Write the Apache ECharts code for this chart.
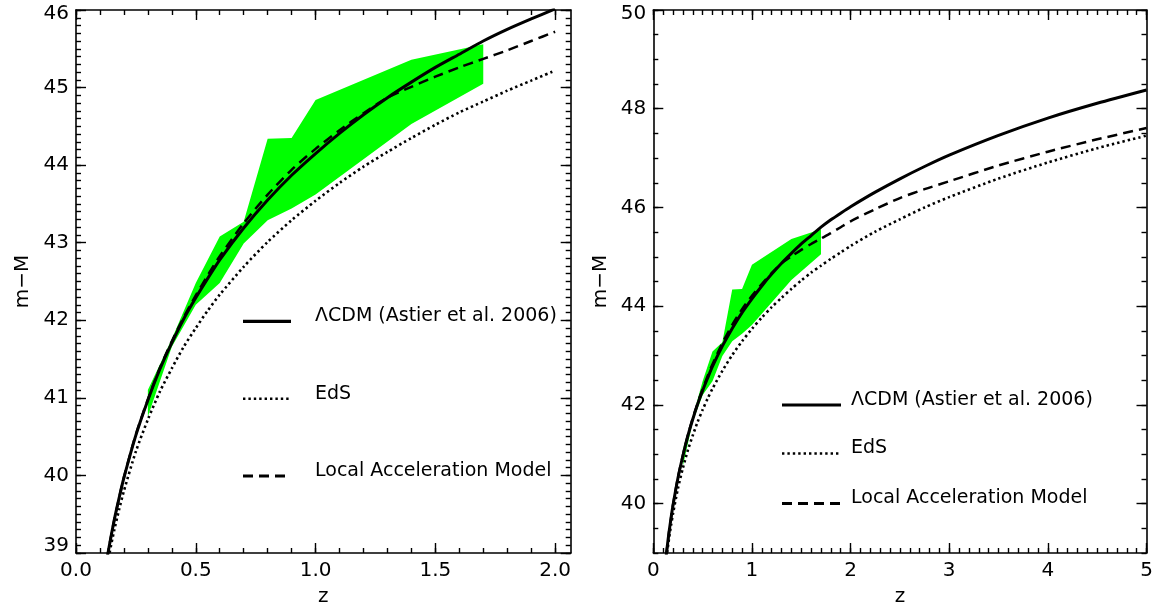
<!DOCTYPE html>
<html>
<head>
<meta charset="utf-8">
<script src="https://cdn.jsdelivr.net/npm/echarts@6/dist/echarts.min.js"></script>
<style>
html,body{margin:0;padding:0;background:#ffffff;}
#chart{width:1155px;height:612px;}
</style>
</head>
<body>
<div id="chart"></div>
<script>
// ---------------- data ----------------
const zValues = [0.10,0.12,0.14,0.16,0.18,0.20,0.25,0.30,0.35,0.40,0.45,0.50,0.55,0.60,
                 0.70,0.80,0.90,1.00,1.10,1.20,1.30,1.40,1.50,1.60,1.70,1.80,1.90,2.00,
                 2.25,2.50,2.75,3.00,3.50,4.00,4.50,5.00];
const muLCDM  = [38.32,38.75,39.11,39.43,39.71,39.97,40.52,40.97,41.37,41.71,42.02,42.29,42.54,42.78,
                 43.19,43.55,43.87,44.15,44.41,44.65,44.87,45.07,45.26,45.43,45.60,45.75,45.885,46.015,
                 46.31,46.58,46.83,47.06,47.46,47.81,48.11,48.38];
const muEdS   = [38.25,38.655,39.00,39.30,39.56,39.80,40.31,40.72,41.08,41.38,41.66,41.90,42.125,42.33,
                 42.69,43.01,43.29,43.54,43.77,43.98,44.17,44.35,44.52,44.68,44.82,44.96,45.09,45.22,
                 45.51,45.76,46.00,46.21,46.585,46.91,47.20,47.455];
const muLocal = [38.32,38.75,39.11,39.43,39.71,39.975,40.53,40.98,41.385,41.73,42.04,42.32,42.58,42.825,
                 43.25,43.62,43.94,44.21,44.45,44.67,44.87,45.01,45.14,45.26,45.37,45.48,45.60,45.72,
                 45.965,46.19,46.37,46.53,46.85,47.13,47.38,47.61];

const bandZ     = [0.30,0.40,0.50,0.60,0.70,0.80,0.90,1.00,1.40,1.70];
const bandUpper = [41.10,41.76,42.48,43.08,43.27,44.34,44.35,44.84,45.36,45.56];
const bandLower = [40.76,41.66,42.20,42.48,42.99,43.29,43.44,43.62,44.53,45.05];

const leftXTicks  = [0,0.5,1.0,1.5,2.0];
const leftYTicks  = [39,40,41,42,43,44,45,46];
const rightXTicks = [0,1,2,3,4,5];
const rightYTicks = [40,42,44,46,48,50];

const seriesNames = ['\u039BCDM (Astier et al. 2006)','EdS','Local Acceleration Model'];
const axisTitleX = 'z';
const axisTitleY = 'm\u2212M';

// ---------------- helpers ----------------
const FONT = '"DejaVu Sans", "Liberation Sans", sans-serif';
function steps(a,b,s){const r=[];const n=Math.round((b-a)/s);for(let i=0;i<=n;i++)r.push(Math.round((a+i*s)*1000)/1000);return r;}
const leftXMinor  = steps(0,2.0,0.1);
const leftYMinor  = steps(39,46,0.1);
const rightXMinor = steps(0,5,0.1);
const rightYMinor = steps(39,50,0.5);

const black = '#000000';
const labelStyle = {color:black, fontFamily:FONT, fontSize:20};

function majorAxis(kind, gridIndex, position, min, max, ticks, labelOpts, name, nameGap){
  const ax = {
    type:'value', gridIndex, position, min, max,
    axisLine:{show:true, onZero:false, lineStyle:{color:black, width:1.6}},
    splitLine:{show:false},
    axisTick:{show:true, inside:true, length:10, customValues:ticks, lineStyle:{color:black, width:1.4}},
    axisLabel: labelOpts ? Object.assign({show:true, customValues:ticks}, labelStyle, labelOpts) : {show:false},
    axisPointer:{show:false}
  };
  if (name){
    ax.name = name; ax.nameLocation = 'middle'; ax.nameGap = nameGap;
    ax.nameTextStyle = {color:black, fontFamily:FONT, fontSize:20};
  }
  return ax;
}
function minorAxis(gridIndex, position, min, max, ticks){
  return {
    type:'value', gridIndex, position, min, max,
    axisLine:{show:false, onZero:false},
    splitLine:{show:false},
    axisTick:{show:true, inside:true, length:5, customValues:ticks, lineStyle:{color:black, width:1.4}},
    axisLabel:{show:false},
    axisPointer:{show:false}
  };
}

const leftX = {min:0, max:2.065};
const leftY = {min:39, max:46};
const rightX = {min:0, max:5};
const rightY = {min:39, max:50};

const gL = {left:76, top:10, width:494.7, height:543, outerBoundsMode:'none'};
const gR = {left:653.3, top:10, width:493.2, height:543, outerBoundsMode:'none'};

const fmt1 = v => v.toFixed(1);
const fmtInt = v => String(Math.round(v));
const yFmt = (lo, hi) => v => {
  const s = String(Math.round(v));
  if (Math.round(v) === lo) return '{lo|' + s + '}';
  if (Math.round(v) === hi) return '{hi|' + s + '}';
  return s;
};
const yRich = {
  lo:{color:black, fontFamily:FONT, fontSize:20, padding:[0,0,14,0]},
  hi:{color:black, fontFamily:FONT, fontSize:20, padding:[7,0,0,0]}
};

const xAxes = [
  majorAxis('x',0,'bottom',leftX.min,leftX.max,leftXTicks,{formatter:fmt1, margin:8},axisTitleX,34),
  majorAxis('x',0,'top',leftX.min,leftX.max,leftXTicks,null),
  majorAxis('x',1,'bottom',rightX.min,rightX.max,rightXTicks,{formatter:fmtInt, margin:8},axisTitleX,34),
  majorAxis('x',1,'top',rightX.min,rightX.max,rightXTicks,null),
  minorAxis(2,'bottom',leftX.min,leftX.max,leftXMinor),
  minorAxis(2,'top',leftX.min,leftX.max,leftXMinor),
  minorAxis(3,'bottom',rightX.min,rightX.max,rightXMinor),
  minorAxis(3,'top',rightX.min,rightX.max,rightXMinor)
];
const yAxes = [
  majorAxis('y',0,'left',leftY.min,leftY.max,leftYTicks,{formatter:yFmt(39,46), rich:yRich, margin:7},axisTitleY,43),
  majorAxis('y',0,'right',leftY.min,leftY.max,leftYTicks,null),
  majorAxis('y',1,'left',rightY.min,rightY.max,rightYTicks,{formatter:yFmt(null,50), rich:yRich, margin:7},axisTitleY,43),
  majorAxis('y',1,'right',rightY.min,rightY.max,rightYTicks,null),
  minorAxis(2,'left',leftY.min,leftY.max,leftYMinor),
  minorAxis(2,'right',leftY.min,leftY.max,leftYMinor),
  minorAxis(3,'left',rightY.min,rightY.max,rightYMinor),
  minorAxis(3,'right',rightY.min,rightY.max,rightYMinor)
];

function curve(vals, zmax){
  const out = [];
  for (let i=0;i<zValues.length;i++){ if (zValues[i] <= zmax + 1e-9) out.push([zValues[i], vals[i]]); }
  return out;
}
const styles = [
  {color:black, width:3, type:'solid'},
  {color:black, width:2.6, type:[2.4,3], cap:'butt'},
  {color:black, width:2.5, type:[10,6], cap:'butt'}
];
const values = [muLCDM, muEdS, muLocal];

function lineSeries(k, xi, yi, zmax){
  return {
    type:'line', name:seriesNames[k], xAxisIndex:xi, yAxisIndex:yi,
    data:curve(values[k], zmax), symbol:'none', showSymbol:false,
    smooth:0.25, clip:true, lineStyle:styles[k], z:3, silent:true, animation:false
  };
}
function bandSeries(xi, yi){
  return {
    type:'custom', name:'band', xAxisIndex:xi, yAxisIndex:yi, z:2, silent:true, animation:false,
    data: bandZ.map((z,i)=>[z, bandLower[i], bandUpper[i]]),
    encode:{x:0, y:[1,2]},
    renderItem:(params, api)=>{
      if (params.dataIndex !== 0) return null;
      const pts = [];
      for (let i=0;i<bandZ.length;i++) pts.push(api.coord([bandZ[i], bandUpper[i]]));
      for (let i=bandZ.length-1;i>=0;i--) pts.push(api.coord([bandZ[i], bandLower[i]]));
      return {type:'polygon', shape:{points:pts}, style:{fill:'#00ff00', stroke:null}};
    }
  };
}

const series = [
  bandSeries(0,0),
  lineSeries(0,0,0,2.0), lineSeries(1,0,0,2.0), lineSeries(2,0,0,2.0),
  bandSeries(2,2),
  lineSeries(0,2,2,5.0), lineSeries(1,2,2,5.0), lineSeries(2,2,2,5.0)
];

// legend keys drawn as graphic elements (positions in pixels)
function legendRows(x1, x2, tx, rows, dashEnd){
  const els = [];
  rows.forEach((r,k)=>{
    const st = {stroke:black, lineWidth:[3.2,2.6,2.8][k]};
    if (k===1) st.lineDash = [2.4,3];
    if (k===2) st.lineDash = [10,6];
    els.push({type:'line', shape:{x1:x1, y1:r, x2:(k===2 ? dashEnd : x2), y2:r}, style:st, silent:true});
    els.push({type:'text', x:tx, y:r-5, style:{text:seriesNames[k], fill:black, font:'19px ' + FONT, verticalAlign:'middle', align:'left'}, silent:true});
  });
  return els;
}
const graphic = [].concat(
  legendRows(243, 291, 315, [321.4, 398.7, 476.0], 285),
  legendRows(782, 841, 851, [405, 453.5, 503.5], 841)
);

const chart = echarts.init(document.getElementById('chart'), null, {renderer:'canvas'});
chart.setOption({
  animation:false,
  backgroundColor:'#ffffff',
  grid:[gL, gR, Object.assign({}, gL), Object.assign({}, gR)],
  xAxis:xAxes,
  yAxis:yAxes,
  series:series,
  graphic:graphic
});
</script>
</body>
</html>
